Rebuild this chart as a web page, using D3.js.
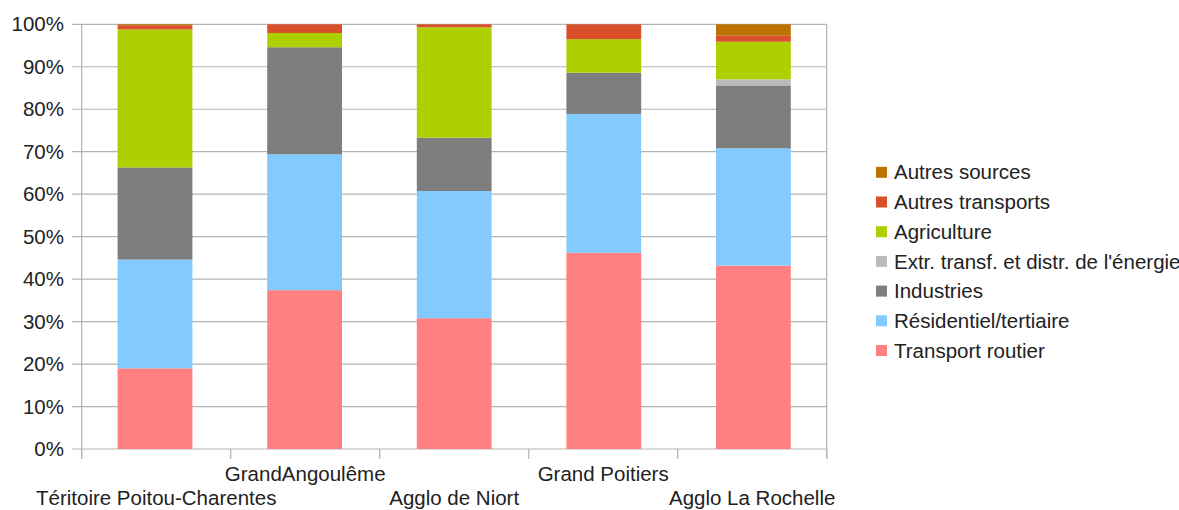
<!DOCTYPE html>
<html><head><meta charset="utf-8">
<script src="https://cdn.jsdelivr.net/npm/d3@7"></script>
<style>
html,body{margin:0;padding:0;background:#fff;}
svg{display:block;font-family:"Liberation Sans",Arial,sans-serif;}
</style></head>
<body><svg id="c" width="1179" height="510"></svg>
<script>
const categories = ["Téritoire Poitou-Charentes","GrandAngoulême","Agglo de Niort","Grand Poitiers","Agglo La Rochelle"];
const seriesNames = ["Transport routier","Résidentiel/tertiaire","Industries","Extr. transf. et distr. de l'énergie","Agriculture","Autres transports","Autres sources"];
const transportRoutier = [19.0, 37.4, 30.8, 46.2, 43.2];
const residentiel      = [25.6, 32.0, 29.95, 32.7, 27.6];
const industries       = [21.7, 25.2, 12.55, 9.7, 14.8];
const extrEnergie      = [0, 0, 0, 0, 1.45];
const agriculture      = [32.5, 3.35, 26.0, 7.9, 8.85];
const autresTransports = [1.0, 2.05, 0.7, 3.5, 1.4];
const autresSources    = [0.2, 0, 0, 0, 2.7];
const colors = ["#ff8080","#83caff","#7e7e7e","#bbbbbb","#aecf00","#d9502b","#bb7200"];
const yTicks = [0,10,20,30,40,50,60,70,80,90,100];

const seriesValues = [transportRoutier,residentiel,industries,extrEnergie,agriculture,autresTransports,autresSources];
const rows = categories.map((c,i)=>{const r={cat:c}; seriesNames.forEach((s,j)=>r[s]=seriesValues[j][i]); return r;});

const svg = d3.select("#c");
const L=81.7, R=826.7, T=24.3, B=449;
const FS = 20.5;
const x = d3.scaleBand().domain(categories).range([L,R]).paddingInner(0.5).paddingOuter(0.24);
const y = d3.scaleLinear().domain([0,1]).range([B,T]);
const grid="#b3b3b3";

svg.append("g").selectAll("line").data(yTicks).join("line")
  .attr("x1",L-10).attr("x2",R).attr("y1",d=>y(d/100)).attr("y2",d=>y(d/100))
  .attr("stroke",grid).attr("stroke-width",1.2);
svg.append("line").attr("x1",R).attr("x2",R).attr("y1",T).attr("y2",B+10).attr("stroke",grid).attr("stroke-width",1.2);
svg.append("line").attr("x1",L).attr("x2",L).attr("y1",T).attr("y2",B+10).attr("stroke",grid).attr("stroke-width",1.2);
const step = (R-L)/categories.length;
svg.append("g").selectAll("line").data(d3.range(categories.length+1)).join("line")
  .attr("x1",i=>L+i*step).attr("x2",i=>L+i*step).attr("y1",B).attr("y2",B+10)
  .attr("stroke",grid).attr("stroke-width",1.2);

svg.append("g").selectAll("text").data(yTicks).join("text")
  .attr("x",64).attr("y",d=>y(d/100)).attr("dy","0.35em").attr("text-anchor","end")
  .attr("font-size",FS).attr("fill","#222").text(d=>d+"%");

const stack = d3.stack().keys(seriesNames).offset(d3.stackOffsetExpand);
const stacked = stack(rows);
svg.append("g").selectAll("g").data(stacked).join("g").attr("fill",(d,i)=>colors[i])
  .selectAll("rect").data(d=>d).join("rect")
  .attr("x",d=>x(d.data.cat)).attr("width",x.bandwidth())
  .attr("y",d=>y(d[1])).attr("height",d=>Math.max(0,y(d[0])-y(d[1])));

svg.append("g").selectAll("text").data(categories).join("text")
  .attr("x",(d,i)=>L+(i+0.5)*step).attr("y",(d,i)=>i%2===0?505:481)
  .attr("text-anchor","middle").attr("font-size",FS).attr("fill","#222").text(d=>d);

const leg = svg.append("g");
const legOrder = seriesNames.map((s,i)=>({s,c:colors[i]})).reverse();
legOrder.forEach((d,i)=>{
  const cy = 172.3 + i*29.7;
  leg.append("rect").attr("x",876).attr("y",cy-5.5).attr("width",11).attr("height",11).attr("fill",d.c);
  leg.append("text").attr("x",894).attr("y",cy).attr("dy","0.35em").attr("font-size",FS).attr("fill","#222").text(d.s);
});
</script></body></html>
